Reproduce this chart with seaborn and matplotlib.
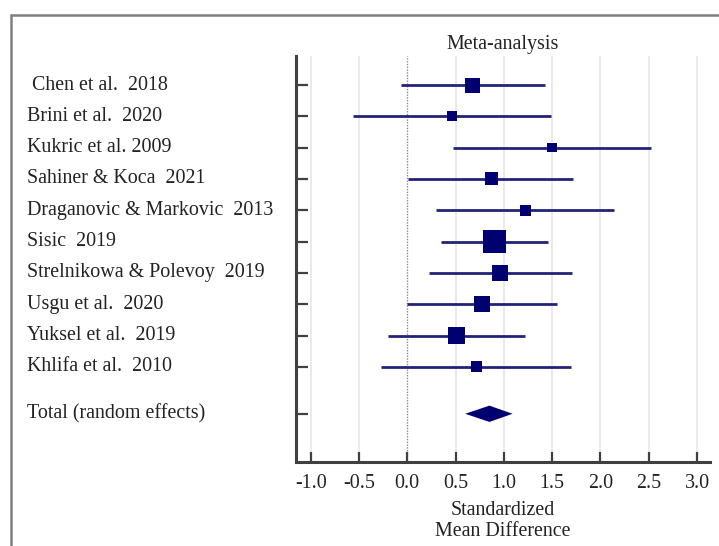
import matplotlib
matplotlib.use("Agg")
import matplotlib.pyplot as plt
import matplotlib.transforms as mtransforms
import seaborn as sns
import numpy as np
import pandas as pd

studies = [" Chen et al.  2018", "Brini et al.  2020", "Kukric et al. 2009",
           "Sahiner & Koca  2021", "Draganovic & Markovic  2013", "Sisic  2019",
           "Strelnikowa & Polevoy  2019", "Usgu et al.  2020", "Yuksel et al.  2019",
           "Khlifa et al.  2010"]
smd = [0.68, 0.465, 1.50, 0.87, 1.22, 0.905, 0.96, 0.775, 0.51, 0.72]
ci_low = [-0.065, -0.56, 0.476, 0.003, 0.30, 0.35, 0.22, 0.0, -0.20, -0.27]
ci_high = [1.43, 1.49, 2.52, 1.72, 2.14, 1.455, 1.71, 1.55, 1.22, 1.70]
weight = [10.7, 4.8, 4.3, 8.0, 5.8, 24.5, 11.1, 11.7, 13.3, 5.8]
total_label = "Total (random effects)"
total_smd = 0.85
total_low = 0.60
total_high = 1.09
xticks = [-1.0, -0.5, 0.0, 0.5, 1.0, 1.5, 2.0, 2.5, 3.0]

sns.set_theme(style="white")
plt.rcParams["font.family"] = ["Liberation Serif", "DejaVu Serif"]

FS = 14.4
TXT = "#222222"

fig = plt.figure(figsize=(7.19, 5.46), dpi=100)
ax = fig.add_axes([296/719, 1-462/546, (710-296)/719, (462-56)/546])
ax.set_axisbelow(False)

ypos = list(range(1, len(studies) + 1))
y_total = len(studies) + 1.5

navy_line = "#22227a"
navy = "#000070"

# grid
for t in xticks:
    if t == 0:
        ax.axvline(t, color="#8a8a8a", lw=1.0, ls=(0, (1, 1)), zorder=0.3)
    else:
        ax.axvline(t, color="#e4e4ea", lw=1.1, zorder=0.3)

ax.hlines(ypos, ci_low, ci_high, color=navy_line, lw=2.0, zorder=2)

df = pd.DataFrame({"study": studies, "smd": smd, "y": ypos, "w": weight})
# square side (points) proportional to sqrt(weight); scatter size is area in pt^2
side_pt = 3.3 * np.sqrt(df["w"])
df["area"] = side_pt ** 2
sns.scatterplot(data=df, x="smd", y="y", size="area", sizes=(df["area"].min(), df["area"].max()),
                size_norm=(df["area"].min(), df["area"].max()),
                marker="s", color=navy, edgecolor=navy, linewidth=0, legend=False, ax=ax, zorder=3)

# diamond for total
dh = 0.26
ax.fill([total_low, total_smd, total_high, total_smd],
        [y_total, y_total - dh, y_total, y_total + dh], color=navy, lw=0, zorder=3)

ax.set_xlim(-1.152, 3.134)
ax.set_ylim(13.04, 0.073)
ax.set_xticks(xticks)
ax.set_xticklabels([f"{t:.1f}" for t in xticks], fontsize=FS)
ax.set_yticks(ypos + [y_total])
ax.set_yticklabels([])
ax.tick_params(axis="x", direction="in", length=7.5, width=1.6, color="#404040", pad=8.5, labelcolor=TXT, bottom=True)
ax.tick_params(axis="y", direction="in", length=8.5, width=1.6, color="#404040", left=True)
for s in ["top", "right"]:
    ax.spines[s].set_visible(False)
for s in ["left", "bottom"]:
    ax.spines[s].set_color("#404040")
    ax.spines[s].set_linewidth(2.2)

ax.set_xlabel("Standardized\nMean Difference", fontsize=FS, color=TXT, labelpad=6, linespacing=1.15)
ax.set_ylabel("")
ax.set_title("Meta-analysis", fontsize=FS, color=TXT, pad=5)

trans = mtransforms.blended_transform_factory(fig.transFigure, ax.transData)
for lab, y in zip(studies + [total_label], ypos + [y_total]):
    ax.text(27/719, y, lab, transform=trans, ha="left", va="center", fontsize=FS, color=TXT)

# figure frame (top and left lines)
fig.add_artist(plt.Line2D([11/719, 1.0], [1-15/546, 1-15/546], transform=fig.transFigure, color="#808080", lw=1.8))
fig.add_artist(plt.Line2D([11/719, 11/719], [0, 1-15/546], transform=fig.transFigure, color="#808080", lw=1.8))

fig.savefig("out.png", dpi=100)
